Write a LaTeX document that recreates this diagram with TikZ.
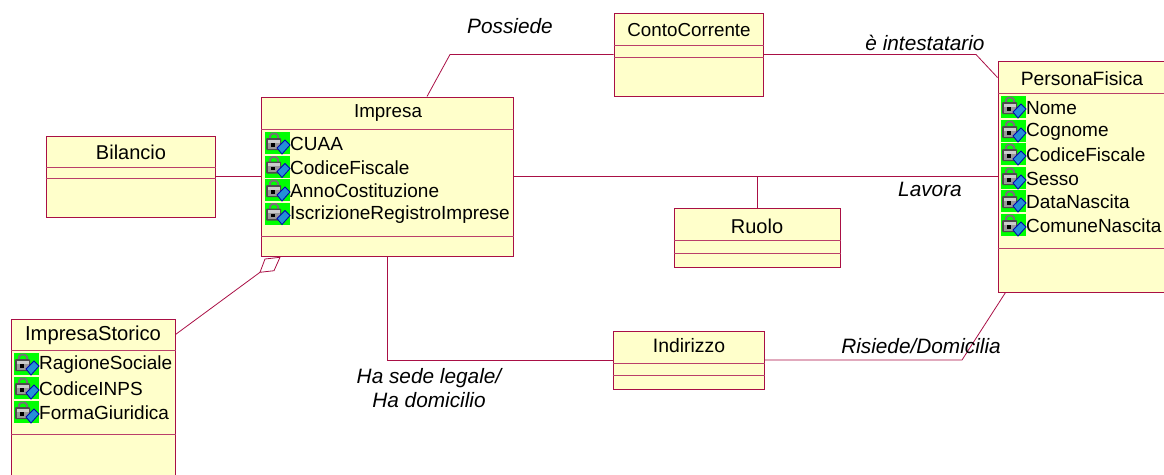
\documentclass[tikz,border=0pt]{standalone}
\usepackage{fontspec}
\setmainfont{Liberation Sans}
\usetikzlibrary{positioning}
\definecolor{umlline}{HTML}{A90F45}
\definecolor{umlfill}{HTML}{FFFFCB}
\tikzset{
 classbox/.style={draw=umlline,fill=umlfill,line width=1pt,inner sep=0pt,minimum width=#1},
 sepline/.style={draw=umlline!80,line width=0.8pt},
 link/.style={draw=umlline,line width=0.8pt},
 title/.style={inner sep=0pt,font=\fontsize{18.8}{20}\selectfont},
 bigtitle/.style={inner sep=0pt,font=\fontsize{20}{22}\selectfont},
 attr/.style={inner sep=0pt,anchor=west,font=\fontsize{19}{20}\selectfont},
 rolename/.style={inner sep=0pt,align=center,font=\fontsize{20.8}{24}\selectfont\itshape},
 lockicon/.pic={
  \fill[green] (0,0) rectangle (25,22);
  \draw[black!55,line width=2pt] (5,7) -- (5,4) -- (7,1.5) -- (11,1.5) -- (13,4) -- (13,7);
  \fill[black!70,rounded corners=1pt] (1,6) rectangle (16,18);
  \fill[black!20] (2.5,7.5) rectangle (14.5,10.5);
  \fill[black!40] (2.5,10.5) rectangle (14.5,16.5);
  \fill[black] (6,11) rectangle (10,14.5);
  \draw[fill=cyan!70!blue!90,draw=blue!70!black,line width=0.8pt] (12,16) -- (20,8) -- (25,13) -- (17,22) -- cycle;
 }
}
% box with its two compartment lines
\newcommand{\umlclass}[7]{
 \node[classbox=#4pt,minimum height=#5pt] (#1) at (#2,#3) {};
 \draw[sepline] (#1.west |- 0,#6) -- (#1.east |- 0,#6);
 \draw[sepline] (#1.west |- 0,#7) -- (#1.east |- 0,#7);
}
\newcommand{\attrib}[4]{
 \pic at (#2,#3) {lockicon};
 \node[attr] (#1) at (#2+25,#3+12) {#4};
}
\begin{document}
\begin{tikzpicture}[x=1pt,y=-1pt]
 \useasboundingbox (0,0) rectangle (1164,474);
 \clip (0,0) rectangle (1164,474);
 \umlclass{impresa}{387.25}{176.5}{251.5}{159}{129}{236}
 \umlclass{bilancio}{130.5}{176.5}{169}{81}{167}{178}
 \umlclass{conto}{688.5}{54.5}{149}{83}{45}{57}
 \umlclass{persona}{1084}{176.5}{172}{231}{93}{248}
 \umlclass{ruolo}{757}{237.5}{166}{59}{240}{253}
 \umlclass{indirizzo}{688.5}{360}{151}{58}{363}{375}
 \umlclass{storico}{93}{400}{164}{162}{350}{434}

 % connectors
 \draw[link] ([xshift=166pt]impresa.north west) -- (450,54.5) -- (conto.west);
 \draw[link] (conto.east) -- (976,54.5) -- ([yshift=-17pt]persona.north west);
 \draw[link] (bilancio.east) -- (impresa.west);
 \draw[link] (impresa.east) -- (persona.west);
 \coordinate (ruolojoin) at (ruolo.north |- persona.west);
 \draw[link] (ruolo.north) -- (ruolojoin);
 \draw[link] (impresa.south) |- (indirizzo.west);
 \draw[link] (indirizzo.east) -- (962,360) -- ([xshift=8pt]persona.south west);
 \coordinate (aggr) at (260,272.3);
 \draw[link] ([yshift=-16pt]storico.north east) -- (aggr);
 \draw[link,fill=white] (aggr) -- (265,259) -- (280,257.3) -- (274,270.7) -- cycle;

 \node[title] (impresatitle) at (388,113) {Impresa};
 \node[bigtitle] (bilanciotitle) at (131,152) {Bilancio};
 \node[title] (contotitle) at (689,30) {ContoCorrente};
 \node[title,font=\fontsize{19.3}{20}\selectfont] (personatitle) at (1082,79) {PersonaFisica};
 \node[bigtitle] (ruolotitle) at (757,226) {Ruolo};
 \node[title,font=\fontsize{19.4}{20}\selectfont] (indirizzotitle) at (689,346) {Indirizzo};
 \node[title,font=\fontsize{20.2}{22}\selectfont] (storicotitle) at (93,335) {ImpresaStorico};

 \attrib{cuaa}{265}{132}{CUAA}
 \attrib{codfisc}{265}{155.5}{CodiceFiscale}
 \attrib{anno}{265}{179}{AnnoCostituzione}
 \attrib{iscr}{265}{202.5}{IscrizioneRegistroImprese}

 \attrib{ragione}{14}{353}{RagioneSociale}
 \attrib{inps}{14}{377}{CodiceINPS}
 \attrib{forma}{14}{401}{FormaGiuridica}

 \attrib{nome}{1001}{96}{Nome}
 \attrib{cognome}{1001}{120}{Cognome}
 \attrib{codfiscp}{1001}{143}{CodiceFiscale}
 \attrib{sesso}{1001}{167}{Sesso}
 \attrib{nascita}{1001}{190}{DataNascita}
 \attrib{comune}{1001}{214}{ComuneNascita}

 \node[rolename] (possiede) at (510,26) {Possiede};
 \node[rolename] (intestatario) at (925,43) {è intestatario};
 \node[rolename] (lavora) at (930,189) {Lavora};
 \node[rolename] (sede) at (429,388) {Ha sede legale/\\Ha domicilio};
 \node[rolename] (risiede) at (921,346) {Risiede/Domicilia};
\end{tikzpicture}
\end{document}
